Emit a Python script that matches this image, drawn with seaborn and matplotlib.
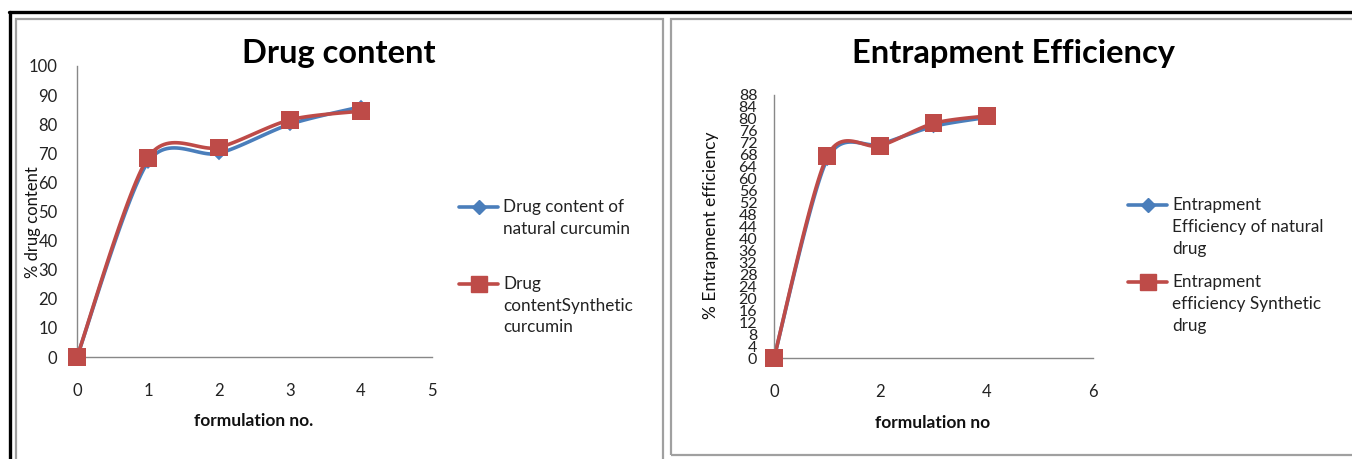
import numpy as np
import pandas as pd
import matplotlib
matplotlib.use("Agg")
import matplotlib.pyplot as plt
from matplotlib.lines import Line2D
from matplotlib.patches import Rectangle
import seaborn as sns

# ---- data ----
formulation = [0, 1, 2, 3, 4]
drug_natural = [0, 67, 70, 80, 86]
drug_synthetic = [0, 68.5, 72, 81.5, 84.5]
ee_natural = [0, 66.5, 71.5, 77.5, 80.5]
ee_synthetic = [0, 67.5, 71, 78.5, 81]

drug_labels = [["Drug content of", "natural curcumin"],
               ["Drug", "contentSynthetic", "curcumin"]]
ee_labels = [["Entrapment", "Efficiency of natural", "drug"],
             ["Entrapment", "efficiency Synthetic", "drug"]]

BLUE = "#4A7EBB"
RED = "#BE4B48"
AXIS = "#888888"
FONT = "Lato"

sns.set_theme(style="white")
plt.rcParams["font.family"] = [FONT, "DejaVu Sans"]


def smooth(x, y, n=30):
    """Catmull-Rom curve through the points (spreadsheet-style smoothed line)."""
    x = np.asarray(x, float)
    y = np.asarray(y, float)
    px = np.concatenate([[x[0]], x, [x[-1]]])
    py = np.concatenate([[y[0]], y, [y[-1]]])
    xs, ys = [], []
    t = np.linspace(0, 1, n)
    for i in range(1, len(px) - 2):
        p0, p1, p2, p3 = (np.array([px[j], py[j]]) for j in (i - 1, i, i + 1, i + 2))
        c1 = p1 + (p2 - p0) / 7
        c2 = p2 - (p3 - p1) / 7
        seg = ((1 - t) ** 3)[:, None] * p1 + (3 * (1 - t) ** 2 * t)[:, None] * c1 \
            + (3 * (1 - t) * t ** 2)[:, None] * c2 + (t ** 3)[:, None] * p2
        xs.extend(seg[:, 0])
        ys.extend(seg[:, 1])
    return np.array(xs), np.array(ys)


fig = plt.figure(figsize=(13.52, 4.59), dpi=100)
W, H = 1352, 459


def fx(px):
    return px / W


def fy(py):
    return 1 - py / H


# outer black frame and grey panel borders
fig.add_artist(Line2D([fx(9), 1], [fy(12), fy(12)], color="black", lw=2.4))
fig.add_artist(Line2D([fx(10), fx(10)], [fy(12), 0], color="black", lw=2.4))
fig.add_artist(Rectangle((fx(16), fy(470)), fx(663 - 16), fy(19) - fy(470),
                         fill=False, ec="#A0A0A0", lw=1.6))
fig.add_artist(Rectangle((fx(671), fy(455)), fx(1360 - 671), fy(19) - fy(455),
                         fill=False, ec="#A0A0A0", lw=1.6))


def legend_entry(x0, y0, color, marker, msize, lines, line_gap):
    """Handle (line + marker) level with the first text line, text to its right."""
    fig.add_artist(Line2D([fx(x0), fx(x0 + 39)], [fy(y0), fy(y0)], color=color, lw=2.6))
    fig.add_artist(Line2D([fx(x0 + 19.5)], [fy(y0)], color=color, marker=marker,
                          markersize=msize, lw=0))
    for k, txt in enumerate(lines):
        fig.text(fx(x0 + 44), fy(y0 + k * line_gap), txt, fontsize=12.3,
                 ha="left", va="center", color="#222222")


def panel(rect, nat, syn, labels, title, title_xy, xlabel, xlabel_xy, ylabel, ylabel_xy,
          ylabel_fs, xlim, xticks, ylim, yticks, ytick_fs, ypad, leg):
    ax = fig.add_axes(rect)
    names = ["natural", "synthetic"]
    df = pd.DataFrame({"x": formulation * 2, "y": nat + syn,
                       "series": [names[0]] * 5 + [names[1]] * 5})
    for vals, col in ((nat, BLUE), (syn, RED)):
        sx, sy = smooth(formulation, vals)
        ax.plot(sx, sy, color=col, lw=2.6, solid_capstyle="round", zorder=2, clip_on=False)
    sns.scatterplot(data=df, x="x", y="y", hue="series", style="series",
                    markers={names[0]: "D", names[1]: "s"},
                    palette={names[0]: BLUE, names[1]: RED},
                    size="series", sizes={names[0]: 50, names[1]: 165},
                    linewidth=0, legend=False, ax=ax, zorder=3, clip_on=False)
    ax.set_xlim(*xlim)
    ax.set_ylim(*ylim)
    ax.set_xticks(xticks)
    ax.set_yticks(yticks)
    ax.set_xticklabels([str(v) for v in xticks], fontsize=12, color="#222222")
    ax.set_yticklabels([str(v) for v in yticks], fontsize=ytick_fs, color="#222222")
    ax.tick_params(axis="both", length=0)
    ax.tick_params(axis="x", pad=19)
    ax.tick_params(axis="y", pad=ypad)
    for s in ("top", "right"):
        ax.spines[s].set_visible(False)
    for s in ("left", "bottom"):
        ax.spines[s].set_color(AXIS)
        ax.spines[s].set_linewidth(1.0)
    ax.set_xlabel("")
    ax.set_ylabel("")
    ax.patch.set_alpha(0)

    fig.text(fx(title_xy[0]), fy(title_xy[1]), title, fontsize=23.5, fontweight="bold",
             ha="center", va="center", color="black")
    fig.text(fx(xlabel_xy[0]), fy(xlabel_xy[1]), xlabel, fontsize=12.5, fontweight="bold",
             ha="center", va="center", color="#111111")
    fig.text(fx(ylabel_xy[0]), fy(ylabel_xy[1]), ylabel, fontsize=ylabel_fs, rotation=90,
             ha="center", va="center", color="#111111")

    (lx, ly1, ly2, gap) = leg
    legend_entry(lx, ly1, BLUE, "D", 7.5, labels[0], gap)
    legend_entry(lx, ly2, RED, "s", 12, labels[1], gap)
    return ax


panel([fx(77), fy(357), fx(432 - 77), fy(66) - fy(357)],
      drug_natural, drug_synthetic, drug_labels,
      "Drug content", (339, 53),
      "formulation no.", (254, 421),
      "% drug content", (33, 222), 12,
      (0, 5), [0, 1, 2, 3, 4, 5], (0, 100), list(range(0, 101, 10)), 12, 14,
      (459, 207, 284, 21.5))

panel([fx(774), fy(358), fx(1093 - 774), fy(95) - fy(358)],
      ee_natural, ee_synthetic, ee_labels,
      "Entrapment Efficiency", (1013, 53),
      "formulation no", (933, 423),
      "% Entrapment efficiency", (711, 225), 12.5,
      (0, 6), [0, 2, 4, 6], (0, 88), list(range(0, 89, 4)), 11.5, 12,
      (1128, 205, 282, 22))

fig.savefig("out.png", dpi=100)
